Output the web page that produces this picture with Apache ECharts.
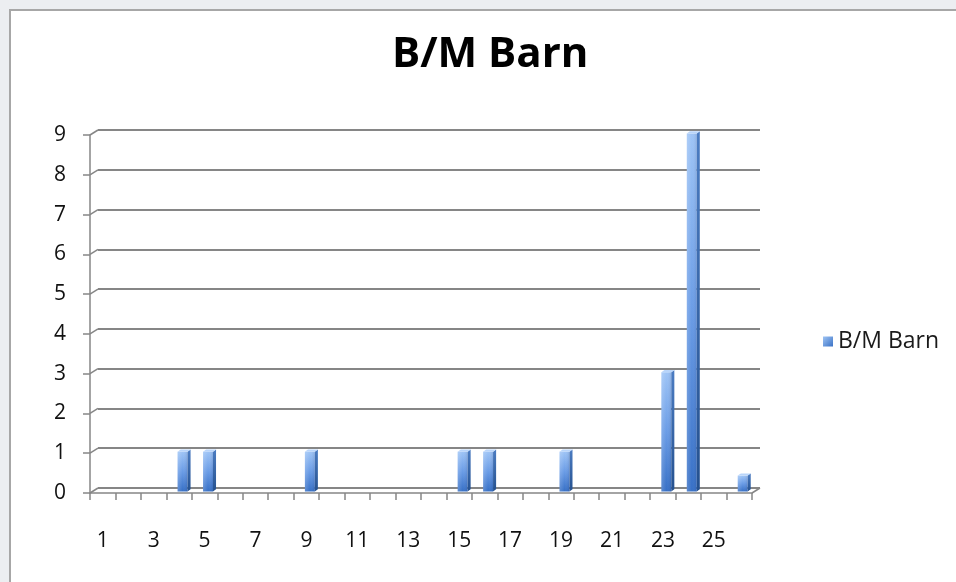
<!DOCTYPE html>
<html>
<head>
<meta charset="utf-8">
<title>B/M Barn</title>
<script src="https://cdn.jsdelivr.net/npm/echarts@6/dist/echarts.min.js"></script>
<style>
  html, body { margin: 0; padding: 0; width: 956px; height: 582px; overflow: hidden; background: #eceef1; }
  #panel { position: absolute; left: 9px; top: 9px; width: 960px; height: 600px; background: #ffffff;
           border-left: 2px solid #a7a7a7; border-top: 2px solid #a7a7a7; }
  #chart { position: absolute; left: 0; top: 0; width: 956px; height: 582px; }
</style>
</head>
<body>
<div id="panel"></div>
<div id="chart"></div>
<script>
// Category labels (days 1..26) and the counts per day
const categories = ['1','2','3','4','5','6','7','8','9','10','11','12','13','14','15','16','17','18','19','20','21','22','23','24','25','26'];
const barnCounts = [0, 0, 0, 1, 1, 0, 0, 0, 1, 0, 0, 0, 0, 0, 1, 1, 0, 0, 1, 0, 0, 0, 3, 9, 0, 0.4];
const yTicks = [0, 1, 2, 3, 4, 5, 6, 7, 8, 9];
const seriesName = 'B/M Barn';

const FONT = '"Open Sans", "Liberation Sans", sans-serif';
const GRID_GREY = '#868686';
const DEPTH_X = 8, DEPTH_Y = -5;   // offset of the back wall from the front axes

const chart = echarts.init(document.getElementById('chart'), null, { renderer: 'canvas' });

const frontFill = new echarts.graphic.LinearGradient(0, 0, 0, 1, [
  { offset: 0, color: '#9ec4f6' },
  { offset: 0.5, color: '#6a9ce6' },
  { offset: 1, color: '#3770c6' }
]);
const sheen = new echarts.graphic.LinearGradient(0, 0, 1, 0, [
  { offset: 0, color: 'rgba(255,255,255,0.18)' },
  { offset: 0.5, color: 'rgba(255,255,255,0.0)' },
  { offset: 1, color: 'rgba(0,0,40,0.10)' }
]);
const sideFill = new echarts.graphic.LinearGradient(0, 0, 0, 1, [
  { offset: 0, color: '#4b7cc2' },
  { offset: 1, color: '#25518f' }
]);

// 3-D looking column: front face, right side face and top face
function renderColumn(params, api) {
  const v = api.value(1);
  if (!v) return null;
  const idx = api.value(0);
  const top = api.coord([idx, v]);
  const base = api.coord([idx, 0]);
  const band = api.size([1, 0])[0];
  const fw = band * 0.39;
  const sd = band * 0.12;
  const sh = sd * 0.7;
  const x0 = top[0] - band * 0.06;
  const yb = base[1] - 1.5;
  const yt = top[1] - 1.5;
  return {
    type: 'group',
    children: [
      { type: 'rect', shape: { x: x0, y: yt, width: fw, height: yb - yt }, style: { fill: frontFill } },
      { type: 'rect', shape: { x: x0, y: yt, width: fw, height: yb - yt }, style: { fill: sheen } },
      { type: 'polygon', shape: { points: [[x0 + fw, yt], [x0 + fw + sd, yt - sh], [x0 + fw + sd, yb - sh], [x0 + fw, yb]] },
        style: { fill: sideFill } },
      { type: 'polygon', shape: { points: [[x0, yt], [x0 + sd, yt - sh], [x0 + fw + sd, yt - sh], [x0 + fw, yt]] },
        style: { fill: '#b9d5fa' } }
    ]
  };
}

// Slanted connectors between the front value axis and the back wall gridlines
function renderWallEdges(params, api) {
  const v = api.value(1);
  const cs = params.coordSys;
  const y = api.coord([0, v])[1];
  const lineStyle = { stroke: GRID_GREY, lineWidth: 1.5 };
  const children = [
    { type: 'line', shape: { x1: cs.x, y1: y, x2: cs.x + DEPTH_X, y2: y + DEPTH_Y }, style: lineStyle }
  ];
  if (v === 0) {
    const xr = cs.x + cs.width;
    children.push({ type: 'line', shape: { x1: xr, y1: y, x2: xr + DEPTH_X, y2: y + DEPTH_Y }, style: lineStyle });
  }
  return { type: 'group', children };
}

const option = {
  animation: false,
  title: {
    text: seriesName,
    left: 387,
    top: 29,
    textStyle: { fontFamily: FONT, fontSize: 42, fontWeight: 'bold', color: '#000000' }
  },
  legend: {
    data: [seriesName],
    left: 818,
    top: 325,
    icon: 'rect',
    itemWidth: 10,
    itemHeight: 10,
    itemGap: 8,
    textStyle: { fontFamily: FONT, fontSize: 23, color: '#1a1a1a' }
  },
  grid: [
    { left: 90, right: 204, top: 135, bottom: 89 },                                     // front axes
    { left: 90 + DEPTH_X, right: 204 - DEPTH_X, top: 135 + DEPTH_Y, bottom: 89 - DEPTH_Y } // back wall
  ],
  xAxis: [
    {
      type: 'category', gridIndex: 0, data: categories, boundaryGap: true,
      axisLine: { show: true, lineStyle: { color: GRID_GREY, width: 1.5 } },
      axisTick: { show: true, interval: 0, length: 7, lineStyle: { color: GRID_GREY, width: 1.5 } },
      axisLabel: { interval: 1, margin: 38, fontFamily: FONT, fontSize: 21, color: '#111111' },
      splitLine: { show: false }
    },
    {
      type: 'category', gridIndex: 1, data: categories, show: false
    }
  ],
  yAxis: [
    {
      type: 'value', gridIndex: 0, min: 0, max: 9, interval: 1,
      axisLine: { show: true, lineStyle: { color: GRID_GREY, width: 1.5 } },
      axisTick: { show: true, length: 7, lineStyle: { color: GRID_GREY, width: 1.5 } },
      axisLabel: { margin: 24, fontFamily: FONT, fontSize: 21, color: '#111111', padding: [4, 0, 0, 0] },
      splitLine: { show: false }
    },
    {
      type: 'value', gridIndex: 1, min: 0, max: 9, interval: 1,
      axisLine: { show: false }, axisTick: { show: false }, axisLabel: { show: false },
      splitLine: { show: true, lineStyle: { color: GRID_GREY, width: 2 } }
    }
  ],
  series: [
    {
      type: 'custom', name: 'wall', xAxisIndex: 0, yAxisIndex: 0, z: 1, silent: true,
      renderItem: renderWallEdges,
      data: yTicks.map(v => [0, v])
    },
    {
      type: 'custom', name: seriesName, xAxisIndex: 0, yAxisIndex: 0, z: 5,
      itemStyle: { color: new echarts.graphic.LinearGradient(0, 0, 1, 1, [
        { offset: 0, color: '#9fc4f4' }, { offset: 1, color: '#3a72c6' }
      ]) },
      renderItem: renderColumn,
      data: barnCounts.map((v, i) => [i, v])
    }
  ]
};

chart.setOption(option);
</script>
</body>
</html>
